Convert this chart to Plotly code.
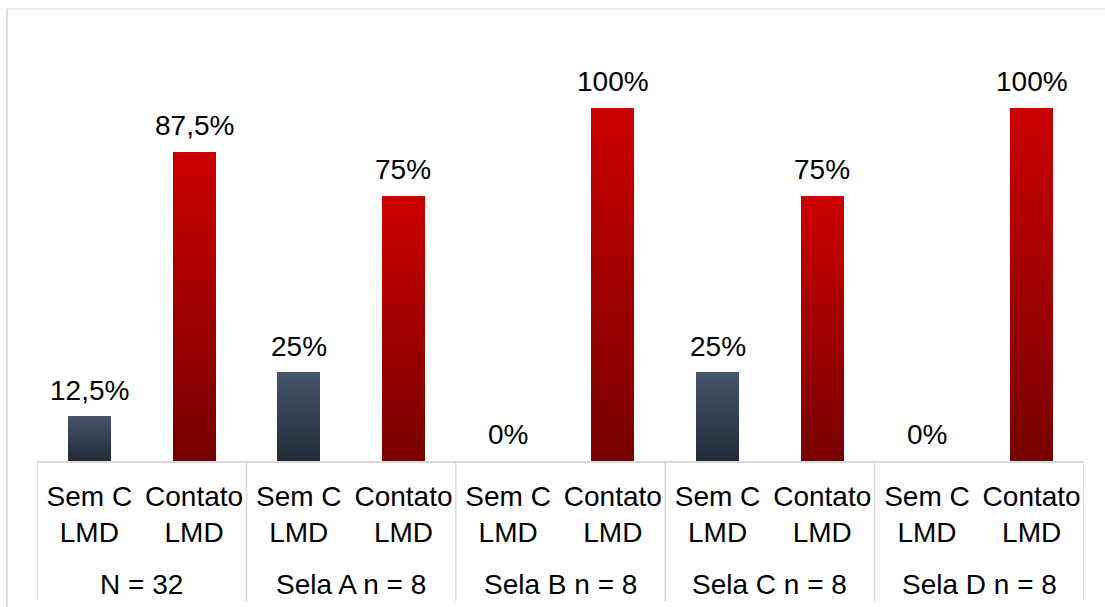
import plotly.graph_objects as go

# Groups (outer axis level) and the two bar series inside each group
groups = ["N = 32", "Sela A n = 8", "Sela B n = 8", "Sela C n = 8", "Sela D n = 8"]
series_labels = ["Sem C<br>LMD", "Contato<br>LMD"]

# Percent values per group
sem_contato = [12.5, 25, 0, 25, 0]
contato = [87.5, 75, 100, 75, 100]

# Value labels as printed above the bars
sem_contato_text = ["12,5%", "25%", "0%", "25%", "0%"]
contato_text = ["87,5%", "75%", "100%", "75%", "100%"]

# Gradient ends (top colour, bottom colour) per series
SLATE = ((68, 84, 106), (34, 42, 54))
RED = ((204, 0, 0), (118, 0, 0))

FONT = "Liberation Sans, Arial, sans-serif"
GRID = "#d9d9d9"

# Flatten into one bar per slot
values, texts, schemes, ticks = [], [], [], []
for i in range(len(groups)):
    values += [sem_contato[i], contato[i]]
    texts += [sem_contato_text[i], contato_text[i]]
    schemes += [SLATE, RED]
    ticks += series_labels
xs = list(range(len(values)))


def mix(top, bottom, t):
    # t = 0 at the bottom of the bar, 1 at the top
    return "rgb({},{},{})".format(*[round(b + (a - b) * t) for a, b in zip(top, bottom)])


fig = go.Figure()

# Each bar is stacked from thin slices so it shades from dark (bottom) to light (top)
N_SLICES = 80
for k in range(N_SLICES):
    t = (k + 0.5) / N_SLICES
    fig.add_trace(go.Bar(
        x=xs,
        y=[v / N_SLICES for v in values],
        width=0.41,
        marker=dict(color=[mix(s[0], s[1], t) for s in schemes], line=dict(width=0)),
        showlegend=False,
        hoverinfo="skip",
    ))

# Value labels above each bar
for x, v, txt in zip(xs, values, texts):
    fig.add_annotation(
        x=x, y=v, xref="x", yref="y", text=txt, showarrow=False,
        yanchor="bottom", yshift=9,
        font=dict(family=FONT, size=28, color="#000000"),
    )

# Outer group labels
for g, name in enumerate(groups):
    fig.add_annotation(
        x=2 * g + 0.5, y=-0.274, xref="x", yref="paper", text=name, showarrow=False,
        yanchor="middle",
        font=dict(family=FONT, size=28, color="#000000"),
    )

shapes = []
# Group dividers below the axis
for g in range(len(groups) + 1):
    shapes.append(dict(type="line", xref="x", yref="paper",
                       x0=2 * g - 0.5, x1=2 * g - 0.5, y0=0, y1=-0.31,
                       line=dict(color=GRID, width=1.5)))
# Outer chart frame (top and left edges)
shapes.append(dict(type="line", xref="paper", yref="paper",
                   x0=-0.0287, x1=1.1, y0=1, y1=1,
                   line=dict(color="#e4e4e4", width=1.5)))
shapes.append(dict(type="line", xref="paper", yref="paper",
                   x0=-0.0287, x1=-0.0287, y0=1, y1=-0.4,
                   line=dict(color="#d6d6d6", width=1.5)))

fig.update_layout(
    barmode="stack",
    bargap=0,
    width=1105,
    height=607,
    margin=dict(l=37, r=21, t=9, b=146),
    plot_bgcolor="white",
    paper_bgcolor="white",
    font=dict(family=FONT, size=28, color="#000000"),
    shapes=shapes,
    xaxis=dict(
        range=[-0.5, 9.5],
        tickmode="array",
        tickvals=xs,
        ticktext=ticks,
        ticks="",
        ticklabelstandoff=9,
        showgrid=False,
        zeroline=False,
        showline=True,
        linecolor=GRID,
        linewidth=2,
        tickfont=dict(family=FONT, size=28, color="#000000"),
        fixedrange=True,
    ),
    yaxis=dict(
        range=[0, 128.05],
        visible=False,
        showgrid=False,
        zeroline=False,
        fixedrange=True,
    ),
)

fig.write_html("out.html")
